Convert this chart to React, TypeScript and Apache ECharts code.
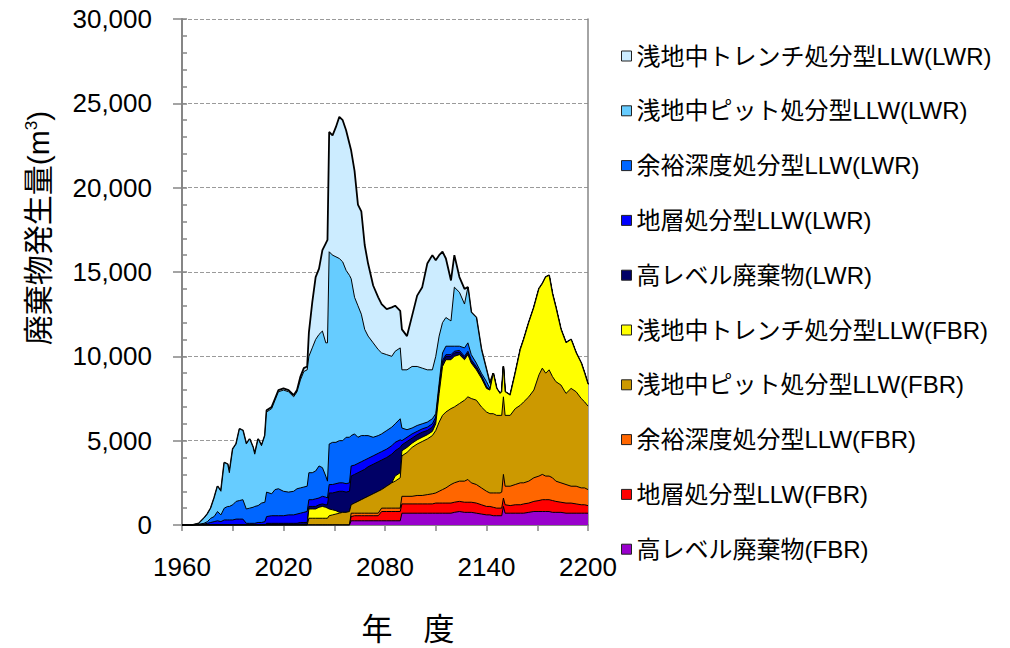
import React, { useEffect, useRef } from "react";
import * as echarts from "echarts";

// Years sampled (x values)
const years = [
  1960, 1966, 1970, 1973, 1975, 1977, 1979, 1981, 1983, 1985,
  1987, 1988, 1990, 1992, 1994, 1996, 1998, 2000, 2002, 2003,
  2005, 2007, 2009, 2010, 2013, 2015, 2017, 2020, 2023, 2026,
  2028, 2030, 2032, 2034, 2035, 2037, 2039, 2041, 2043, 2045,
  2046, 2047, 2049, 2051, 2053, 2055, 2057, 2059, 2060, 2062,
  2064, 2066, 2068, 2070, 2073, 2076, 2078, 2081, 2084, 2086,
  2089, 2090, 2093, 2096, 2099, 2102, 2105, 2108, 2110, 2112,
  2114, 2116, 2119, 2121, 2124, 2127, 2129, 2131, 2134, 2137,
  2140, 2142, 2144, 2146, 2148, 2149, 2150, 2151, 2154, 2157,
  2160, 2162, 2165, 2168, 2171, 2173, 2175, 2177, 2179, 2181,
  2184, 2187, 2190, 2193, 2196, 2198, 2200,
];

// 高レベル廃棄物(FBR)
const hlwFBR = [
  0, 0, 0, 0, 0, 0, 0, 0, 0, 0,
  0, 0, 0, 0, 0, 0, 0, 0, 0, 0,
  0, 0, 0, 0, 0, 0, 0, 0, 0, 0,
  0, 0, 0, 0, 0, 0, 0, 0, 0, 0,
  0, 0, 0, 0, 0, 0, 0, 0, 250, 250,
  250, 250, 250, 250, 250, 250, 250, 250, 250, 250,
  250, 700, 700, 700, 700, 700, 700, 700, 700, 700,
  700, 700, 700, 750, 800, 750, 750, 750, 700, 650,
  600, 600, 550, 550, 550, 550, 1100, 700, 700, 700,
  700, 700, 750, 800, 800, 800, 800, 800, 750, 750,
  750, 700, 700, 700, 700, 700, 700,
];

// 地層処分型LLW(FBR)
const geoFBR = [
  0, 0, 0, 0, 0, 0, 0, 0, 0, 0,
  0, 0, 0, 0, 0, 0, 0, 0, 0, 0,
  0, 0, 0, 0, 0, 0, 0, 0, 0, 0,
  0, 0, 0, 0, 0, 0, 0, 0, 0, 0,
  0, 0, 0, 0, 0, 0, 0, 0, 250, 300,
  300, 300, 300, 300, 300, 300, 550, 550, 550, 550,
  550, 550, 550, 550, 550, 550, 550, 550, 600, 600,
  600, 600, 600, 600, 600, 600, 600, 600, 600, 550,
  500, 500, 500, 450, 450, 450, 500, 500, 450, 500,
  500, 550, 550, 600, 650, 700, 700, 700, 700, 650,
  600, 600, 600, 550, 500, 500, 450,
];

// 余裕深度処分型LLW(FBR)
const intFBR = [
  0, 0, 0, 0, 0, 0, 0, 0, 0, 0,
  0, 0, 0, 0, 0, 0, 0, 0, 0, 0,
  0, 0, 0, 0, 0, 0, 0, 0, 0, 0,
  0, 0, 0, 0, 0, 0, 0, 0, 0, 0,
  0, 0, 0, 0, 0, 0, 0, 0, 200, 150,
  150, 150, 150, 150, 150, 150, 200, 200, 200, 200,
  200, 450, 450, 450, 500, 500, 550, 600, 600, 700,
  800, 900, 1100, 1150, 1200, 1250, 1350, 1150, 1100, 1000,
  900, 800, 850, 900, 900, 950, 1400, 1100, 1150, 1200,
  1300, 1250, 1300, 1400, 1450, 1500, 1400, 1400, 1350, 1200,
  1150, 1100, 1000, 1050, 1000, 1000, 950,
];

// 浅地中ピット処分型LLW(FBR)
const pitFBR = [
  0, 0, 0, 0, 0, 0, 0, 0, 0, 0,
  0, 0, 0, 0, 0, 0, 0, 0, 0, 0,
  0, 0, 0, 0, 0, 0, 0, 0, 0, 0,
  0, 0, 0, 0, 400, 400, 400, 400, 400, 400,
  400, 550, 600, 650, 700, 750, 750, 800, 500, 600,
  700, 800, 900, 1000, 1150, 1300, 1100, 1300, 1500, 1600,
  1800, 2400, 2600, 2900, 3050, 3200, 3300, 3450, 3700, 4100,
  4400, 4500, 4500, 4500, 4600, 4800, 4900, 5000, 5000, 4800,
  4700, 4700, 4700, 4600, 4600, 4550, 4600, 4200, 4200, 4500,
  4600, 4800, 5000, 5200, 6000, 6300, 6100, 6300, 6000, 5900,
  5800, 5400, 5800, 5600, 5300, 5100, 4950,
];

// 浅地中トレンチ処分型LLW(FBR)
const trFBR = [
  0, 0, 0, 0, 0, 0, 0, 0, 0, 0,
  0, 0, 0, 0, 0, 0, 0, 0, 0, 0,
  0, 0, 0, 0, 0, 0, 0, 0, 0, 0,
  0, 0, 0, 0, 550, 550, 550, 650, 700, 650,
  600, 400, 300, 200, 50, 0, 0, 0, 0, 0,
  0, 0, 0, 0, 0, 0, 0, 0, 0, 300,
  300, 300, 300, 250, 250, 250, 250, 250, 400, 1700,
  2900, 3100, 2900, 3000, 2900, 2400, 2500, 2100, 1800, 1700,
  1400, 1400, 2400, 1600, 1300, 1400, 1800, 1400, 1200, 2100,
  3300, 3700, 4400, 4900, 5100, 5000, 5700, 5600, 4900, 4400,
  3300, 3000, 2900, 2300, 2100, 1700, 1300,
];

// 高レベル廃棄物(LWR)
const hlwLWR = [
  0, 0, 0, 0, 0, 0, 0, 0, 0, 0,
  0, 0, 0, 0, 0, 0, 0, 0, 0, 0,
  0, 0, 0, 100, 100, 100, 100, 100, 100, 100,
  100, 150, 150, 150, 150, 150, 150, 150, 150, 150,
  200, 950, 1000, 1100, 1250, 1250, 1200, 1200, 1700, 1700,
  1700, 1700, 1700, 1750, 1750, 1750, 1750, 1700, 1700, 1500,
  1500, 350, 350, 300, 300, 300, 250, 250, 200, 200,
  200, 200, 200, 200, 150, 100, 100, 100, 100, 100,
  50, 0, 0, 0, 0, 0, 0, 0, 0, 0,
  0, 0, 0, 0, 0, 0, 0, 0, 0, 0,
  0, 0, 0, 0, 0, 0, 0,
];

// 地層処分型LLW(LWR)
const geoLWR = [
  0, 0, 0, 50, 100, 150, 200, 250, 200, 300,
  300, 300, 300, 350, 350, 350, 100, 100, 100, 100,
  150, 150, 200, 400, 450, 450, 450, 450, 500, 500,
  550, 550, 600, 650, 400, 400, 450, 400, 450, 450,
  400, 500, 500, 500, 500, 500, 500, 500, 600, 550,
  550, 550, 550, 500, 500, 500, 500, 500, 500, 500,
  450, 250, 250, 250, 200, 200, 200, 200, 200, 150,
  150, 100, 100, 100, 100, 100, 100, 100, 100, 50,
  50, 0, 0, 0, 0, 0, 0, 0, 0, 0,
  0, 0, 0, 0, 0, 0, 0, 0, 0, 0,
  0, 0, 0, 0, 0, 0, 0,
];

// 余裕深度処分型LLW(LWR)
const intLWR = [
  0, 0, 50, 50, 100, 250, 300, 550, 400, 700,
  800, 800, 900, 1050, 1100, 1150, 850, 900, 950, 1000,
  1000, 1150, 1150, 1450, 1300, 1550, 1600, 1450, 1350, 1400,
  1500, 1500, 1500, 1500, 1600, 1600, 1650, 1900, 1700, 1250,
  1000, 2400, 2500, 2450, 2500, 2500, 2750, 2700, 1800, 1850,
  1550, 1550, 1450, 1350, 1100, 1050, 1050, 1100, 1100, 1100,
  1250, 750, 450, 350, 350, 300, 300, 300, 200, 250,
  450, 500, 500, 300, 250, 500, 500, 300, 200, 150,
  300, 100, 0, 0, 0, 0, 0, 0, 0, 0,
  0, 0, 0, 0, 0, 0, 0, 0, 0, 0,
  0, 0, 0, 0, 0, 0, 0,
];

// 浅地中ピット処分型LLW(LWR)
const pitLWR = [
  0, 0, 50, 300, 450, 600, 1100, 1500, 1400, 2700,
  2500, 2000, 3300, 3400, 4250, 4100, 3850, 4100, 3550, 3100,
  3950, 3400, 3950, 4750, 5050, 5300, 5750, 6000, 5950, 5600,
  5750, 6400, 6850, 6900, 6900, 7400, 7800, 7800, 8100, 7900,
  8200, 11400, 11100, 11000, 10800, 10600, 9900, 9600, 9300, 8100,
  7800, 7200, 6300, 5900, 5600, 5100, 4800, 4500, 4200, 4300,
  4200, 3450, 3550, 3650, 3500, 3300, 3100, 2900, 3400, 2800,
  1800, 1700, 1500, 3500, 3200, 2600, 3300, 2500, 2700, 1400,
  700, 300, 0, 0, 0, 0, 0, 0, 0, 0,
  0, 0, 0, 0, 0, 0, 0, 0, 0, 0,
  0, 0, 0, 0, 0, 0, 0,
];

// 浅地中トレンチ処分型LLW(LWR)
const trLWR = [
  0, 0, 0, 0, 0, 0, 0, 0, 0, 0,
  0, 0, 0, 0, 0, 0, 0, 0, 0, 0,
  0, 0, 0, 100, 100, 100, 100, 100, 100, 100,
  100, 200, 200, 200, 1400, 2700, 3700, 3900, 4800, 5900,
  6100, 7100, 7100, 7700, 8400, 8400, 8300, 7800, 7600, 7500,
  6000, 6100, 5000, 4300, 3400, 3100, 2900, 2700, 2900, 2700,
  2200, 2400, 2000, 3000, 4200, 4800, 6300, 6800, 5700, 4800,
  4200, 3500, 2400, 1900, 900, 900, 0, 0, 0, 0,
  0, 0, 0, 0, 0, 0, 0, 0, 0, 0,
  0, 0, 0, 0, 0, 0, 0, 0, 0, 0,
  0, 0, 0, 0, 0, 0, 0,
];

const yTicks = [0, 5000, 10000, 15000, 20000, 25000, 30000];
const xLabelYears = [1960, 2020, 2080, 2140, 2200];

// stacking order: bottom -> top
const layers = [
  { name: "高レベル廃棄物(FBR)", color: "#9900CC", values: hlwFBR },
  { name: "地層処分型LLW(FBR)", color: "#FF0000", values: geoFBR },
  { name: "余裕深度処分型LLW(FBR)", color: "#FF6600", values: intFBR },
  { name: "浅地中ピット処分型LLW(FBR)", color: "#CC9900", values: pitFBR },
  { name: "浅地中トレンチ処分型LLW(FBR)", color: "#FFFF00", values: trFBR },
  { name: "高レベル廃棄物(LWR)", color: "#000066", values: hlwLWR },
  { name: "地層処分型LLW(LWR)", color: "#0000FF", values: geoLWR },
  { name: "余裕深度処分型LLW(LWR)", color: "#0066FF", values: intLWR },
  { name: "浅地中ピット処分型LLW(LWR)", color: "#66CCFF", values: pitLWR },
  { name: "浅地中トレンチ処分型LLW(LWR)", color: "#CCECFF", values: trLWR },
];

const LATIN = "'Liberation Sans', 'Noto Sans CJK JP', sans-serif";
const CJK = "'Noto Sans CJK JP', sans-serif";
const AXIS_GRAY = "#868686";

export default function App() {
  const ref = useRef<HTMLDivElement>(null);

  useEffect(() => {
    if (!ref.current) return;
    const chart = echarts.init(ref.current, null, { renderer: "svg" });

    // cumulative tops for each layer (manual stacking)
    const cumulative = layers.map((_, k) =>
      years.map((_, i) => {
        let s = 0;
        for (let j = 0; j <= k; j++) s += layers[j].values[i];
        return s;
      })
    );

    const series = layers.map((l, k) => ({
      name: l.name,
      type: "line",
      data: years.map((y, i) => [y, cumulative[k][i]]),
      symbol: "none",
      showSymbol: false,
      smooth: false,
      color: l.color,
      itemStyle: { color: l.color },
      lineStyle: { color: "#000", width: k === layers.length - 1 ? 1.8 : 1 },
      areaStyle: { color: l.color, opacity: 1, origin: "start" },
      z: 20 - k,
      silent: true,
      emphasis: { disabled: true },
    }));

    const option: any = {
      animation: false,
      backgroundColor: "#fff",
      grid: { left: 182, right: 422, top: 19, bottom: 123, containLabel: false },
      xAxis: {
        type: "value",
        min: 1960,
        max: 2200,
        interval: 30,
        axisLine: { show: true, onZero: false, lineStyle: { color: AXIS_GRAY, width: 2 } },
        axisTick: { show: true, length: 6, lineStyle: { color: AXIS_GRAY, width: 1.5 } },
        axisLabel: {
          formatter: (v: number) => (xLabelYears.indexOf(v) >= 0 ? String(v) : ""),
          fontSize: 26,
          fontFamily: LATIN,
          color: "#000",
          margin: 29,
        },
        splitLine: { show: false },
      },
      yAxis: [
        {
          type: "value",
          min: yTicks[0],
          max: yTicks[yTicks.length - 1],
          interval: 5000,
          position: "left",
          axisLine: { show: true, lineStyle: { color: AXIS_GRAY, width: 2 } },
          axisTick: { show: true, length: 9, lineStyle: { color: AXIS_GRAY, width: 1.5 } },
          axisLabel: {
            formatter: (v: number) => v.toLocaleString("en-US"),
            fontSize: 26,
            fontFamily: LATIN,
            color: "#000",
            margin: 30,
          },
          splitLine: { show: true, lineStyle: { color: "#9a9a9a", type: [4, 2], width: 1 } },
        },
        {
          type: "value",
          min: 0,
          max: 30000,
          interval: 1000,
          position: "left",
          axisLine: { show: false },
          axisTick: { show: true, inside: true, length: 5, lineStyle: { color: AXIS_GRAY, width: 1.5 } },
          axisLabel: { show: false },
          splitLine: { show: false },
        },
        {
          type: "value",
          min: 0,
          max: 30000,
          interval: 5000,
          position: "right",
          axisLine: { show: true, lineStyle: { color: AXIS_GRAY, width: 1.5 } },
          axisTick: { show: false },
          axisLabel: { show: false },
          splitLine: { show: false },
        },
      ],
      legend: {
        orient: "vertical",
        left: 616,
        top: 38,
        itemWidth: 10,
        itemHeight: 10,
        itemGap: 28.8,
        icon: "rect",
        selectedMode: false,
        data: layers.map((l) => l.name).reverse(),
        itemStyle: { borderColor: "#222", borderWidth: 1 },
        textStyle: { fontSize: 24, fontFamily: LATIN, color: "#000", lineHeight: 26 },
      },
      graphic: [
        {
          type: "text",
          x: 38,
          y: 228,
          rotation: Math.PI / 2,
          style: {
            text: "廃棄物発生量(m{sup|3})",
            fontSize: 30,
            fontFamily: LATIN,
            fill: "#000",
            align: "center",
            verticalAlign: "middle",
            rich: {
              sup: { fontSize: 17, fontFamily: LATIN, fill: "#000", verticalAlign: "top", padding: [0, 0, 12, 0] },
            },
          },
        },
        {
          type: "text",
          x: 408,
          y: 626,
          style: {
            text: "年　度",
            fontSize: 31,
            fontFamily: CJK,
            fill: "#000",
            align: "center",
            verticalAlign: "middle",
          },
        },
      ],
      series,
    };

    chart.setOption(option);
    return () => chart.dispose();
  }, []);

  return (
    <div
      ref={ref}
      style={{ position: "fixed", left: 0, top: 0, width: 1010, height: 648, background: "#fff" }}
    />
  );
}
